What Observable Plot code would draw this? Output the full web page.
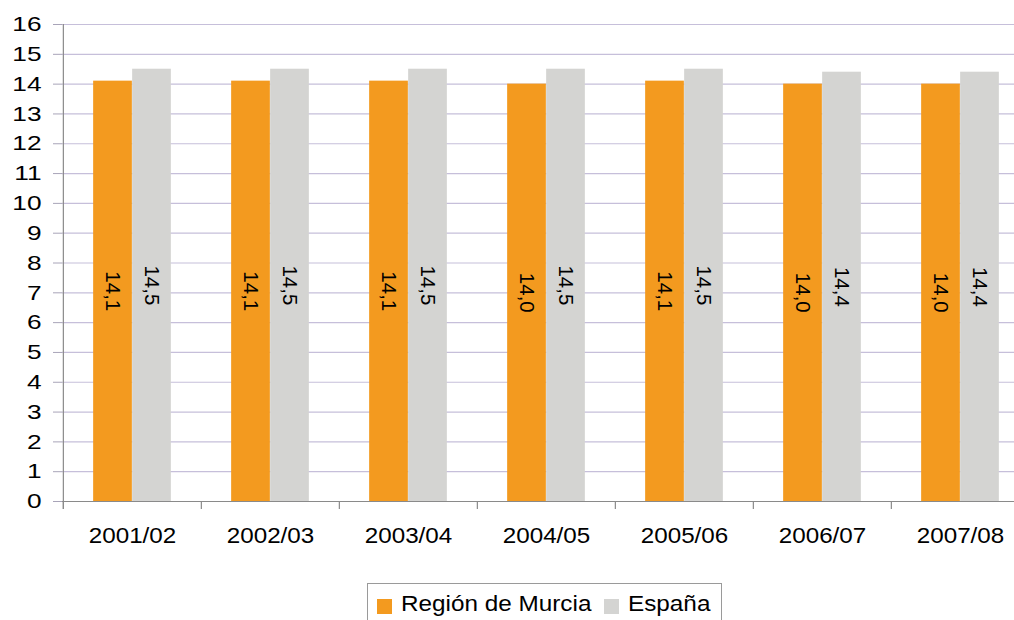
<!DOCTYPE html>
<html>
<head>
<meta charset="utf-8">
<script src="https://cdn.jsdelivr.net/npm/d3@7"></script>
<script src="https://cdn.jsdelivr.net/npm/@observablehq/plot@0.6"></script>
<style>
  html, body { margin: 0; padding: 0; background: #fff; overflow: hidden; }
  #wrap { position: relative; width: 1014px; height: 620px; overflow: hidden; font-family: "Liberation Sans", Arial, sans-serif; }
  #chart { position: absolute; left: 0; top: 0; width: 1030px; }
  #chart svg { max-width: none !important; }
  #chart svg text { font-size: 20.5px !important; }
  #chart svg g[aria-label="y-axis tick label"] text { font-size: 21px !important; }
  #chart svg g[aria-label="x-axis tick label"] text { font-size: 22px !important; }
  #legend { position: absolute; left: 0; top: 0; pointer-events: none; }
</style>
</head>
<body>
<div id="wrap">
  <div id="chart"></div>
  <svg id="legend" width="1014" height="620"></svg>
</div>
<script>
const categories = ["2001/02", "2002/03", "2003/04", "2004/05", "2005/06", "2006/07", "2007/08"];
const seriesNames = ["Región de Murcia", "España"];
const murcia = [14.1, 14.1, 14.1, 14.0, 14.1, 14.0, 14.0];
const espana = [14.5, 14.5, 14.5, 14.5, 14.5, 14.4, 14.4];
const colors = ["#F39A1F", "#D4D4D2"];
const yTicks = d3.range(0, 17);

const fmt = v => v.toFixed(1).replace(".", ",");
const rowsM = categories.map((c, i) => ({cat: c, v: murcia[i]}));
const rowsE = categories.map((c, i) => ({cat: c, v: espana[i]}));

const W = 1030, ML = 62;
const band = (W - ML) / categories.length;
const half = band / 2;
const barW = 39;

const font = "'Liberation Sans', Arial, sans-serif";

const chart = Plot.plot({
  width: W,
  height: 570,
  marginLeft: ML,
  marginRight: 0,
  marginTop: 24,
  marginBottom: 69,
  style: {fontFamily: font, background: "transparent", color: "#000", overflow: "visible", maxWidth: "none"},
  x: {domain: categories, padding: 0, label: null},
  y: {domain: [0, 16], label: null},
  marks: [
    Plot.ruleY(yTicks.filter(d => d > 0), {stroke: "#C6BFDA", strokeWidth: 1.2}),
    Plot.barY(rowsM, {x: "cat", y: "v", fill: colors[0], insetLeft: half - barW, insetRight: half}),
    Plot.barY(rowsE, {x: "cat", y: "v", fill: colors[1], insetLeft: half, insetRight: half - barW}),
    Plot.ruleY([0], {stroke: "#8a8a8a", strokeWidth: 1.2}),
    Plot.ruleX(categories, {x: d => d, dx: -half, y1: -0.27, y2: 0, stroke: "#8a8a8a", strokeWidth: 1.2}),
    Plot.ruleX([categories[0]], {x: d => d, dx: -half, y1: -0.27, y2: 16, stroke: "#8a8a8a", strokeWidth: 1.2}),
    Plot.text(rowsM, {x: "cat", y: d => d.v / 2, text: d => fmt(d.v), dx: -barW / 2, rotate: 90, fill: "#000"}),
    Plot.text(rowsE, {x: "cat", y: d => d.v / 2, text: d => fmt(d.v), dx: barW / 2, rotate: 90, fill: "#000"}),
    Plot.axisY({ticks: yTicks, tickSize: 9, tickPadding: 12, stroke: "#a8a4b8", fill: "#000", label: null}),
    Plot.axisX({tickSize: 0, tickPadding: 26, fill: "#000", label: null})
  ]
});
document.getElementById("chart").appendChild(chart);

// horizontal stretch of the tick labels, as in the original raster
function stretch(sel, sx) {
  chart.querySelectorAll(sel).forEach(t => {
    const tr = t.getAttribute("transform") || "";
    t.setAttribute("transform", tr + ` scale(${sx},1)`);
  });
}
stretch('g[aria-label="y-axis tick label"] text', 1.25);
stretch('g[aria-label="x-axis tick label"] text', 1.1);

// legend
const lg = d3.select("#legend");
lg.append("rect").attr("x", 367.5).attr("y", 583.5).attr("width", 354).attr("height", 40)
  .attr("fill", "#fff").attr("stroke", "#9a9a9a").attr("stroke-width", 1);
const swX = [377, 604];
const txX = [401, 628];
seriesNames.forEach((name, i) => {
  lg.append("rect").attr("x", swX[i]).attr("y", 599).attr("width", 15).attr("height", 15).attr("fill", colors[i]);
  lg.append("text").attr("transform", `translate(${txX[i]},611) scale(1.13,1)`)
    .attr("font-family", font).attr("font-size", 21.5).attr("fill", "#000").text(name);
});
</script>
</body>
</html>
